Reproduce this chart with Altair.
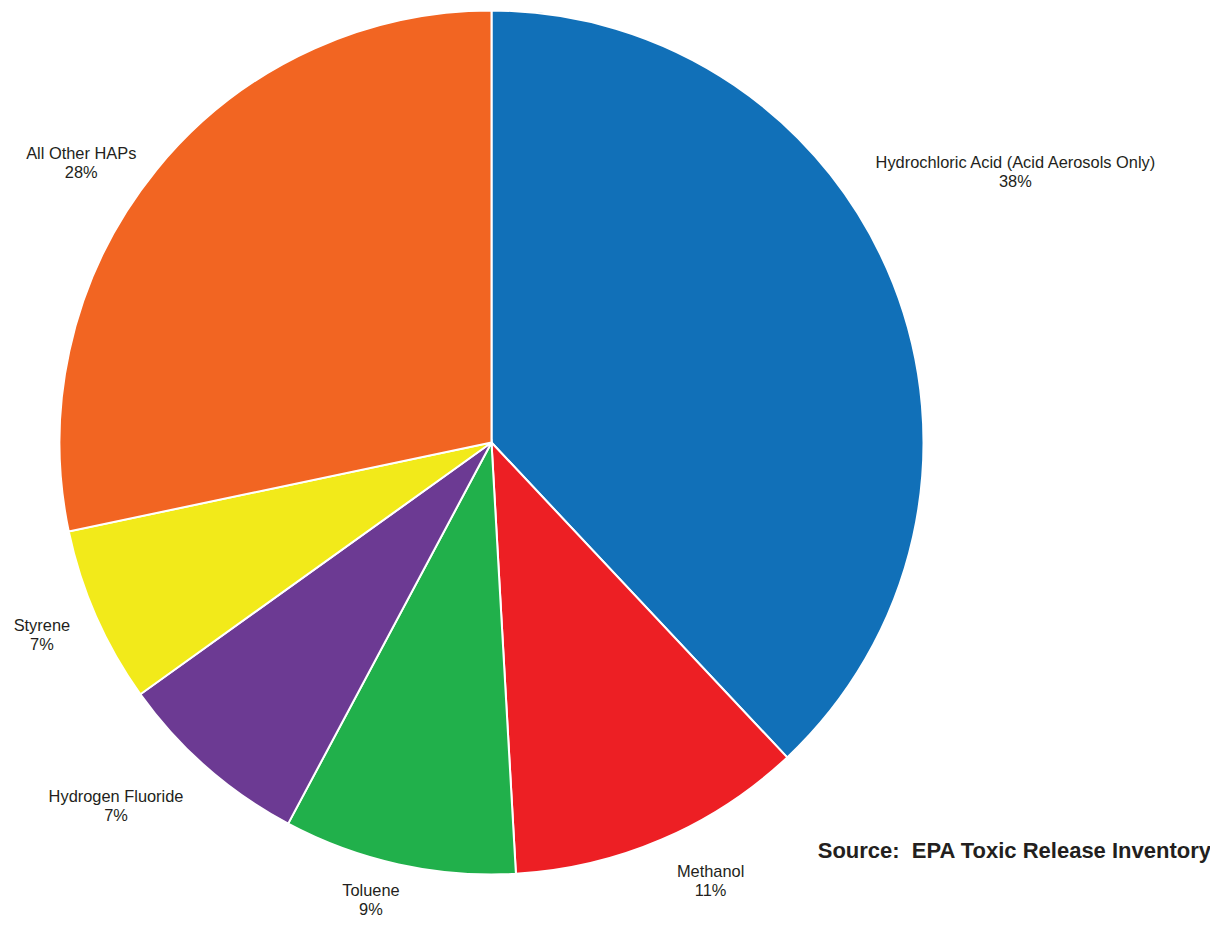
import altair as alt
import pandas as pd

categories = ["Hydrochloric Acid (Acid Aerosols Only)", "Methanol", "Toluene",
              "Hydrogen Fluoride", "Styrene", "All Other HAPs"]
values = [38.0, 11.1, 8.7, 7.3, 6.6, 28.3]
pct_labels = ["38%", "11%", "9%", "7%", "7%", "28%"]
colors = ["#1170B8", "#ED1F24", "#21B04B", "#6C3A93", "#F2EA1A", "#F26522"]

# manual label nudges (dx, dy) in pixels, as placed in the reference
label_nudge = {
    "Hydrochloric Acid (Acid Aerosols Only)": (59, -95),
    "Methanol": (22, -30),
    "Toluene": (-13, -40),
    "Hydrogen Fluoride": (-46, -22),
    "Styrene": (8, -18),
    "All Other HAPs": (-22, 27),
}

df = pd.DataFrame({
    "category": categories,
    "value": values,
    "label": [f"{c}\n{p}" for c, p in zip(categories, pct_labels)],
    "order": list(range(len(categories))),
})

cx, cy = 483.5, 434.5

base = alt.Chart(df).encode(
    theta=alt.Theta("value:Q", stack=True),
    order=alt.Order("order:Q"),
    x=alt.value(cx),
    y=alt.value(cy),
)

pie = base.mark_arc(radius=432, stroke="white", strokeWidth=2).encode(
    color=alt.Color("category:N", scale=alt.Scale(domain=categories, range=colors), legend=None)
)

layers = [pie]
for cat in categories:
    dx, dy = label_nudge[cat]
    layers.append(
        base.mark_text(radius=500, font="Liberation Sans", fontSize=16.4, color="#231F20",
                       lineBreak="\n", lineHeight=19, align="center", baseline="middle",
                       dx=dx, dy=dy)
        .encode(text=alt.condition(alt.datum.category == cat, "label:N", alt.value("")))
    )

source = alt.Chart(pd.DataFrame({"t": ["Source:\u00a0 EPA Toxic Release Inventory"]})).mark_text(
    font="Liberation Sans", fontSize=22, fontWeight="bold", color="#231F20",
    align="right", baseline="alphabetic"
).encode(text="t:N", x=alt.value(1203), y=alt.value(850))
layers.append(source)

chart = alt.layer(*layers).properties(
    width=1202, height=909, padding=0,
    autosize=alt.AutoSizeParams(type="none")
).configure_view(stroke=None)

chart.save("out.html", embed_options={"renderer": "svg", "actions": False})
